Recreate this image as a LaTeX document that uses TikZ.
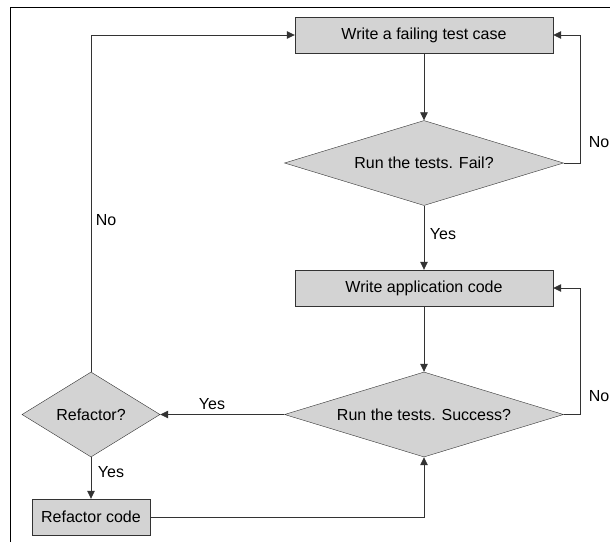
\documentclass[tikz,border=0pt]{standalone}
\usepackage{fontspec}
\setmainfont{Liberation Sans}
\usetikzlibrary{arrows.meta,shapes.geometric}
\definecolor{boxgray}{RGB}{211,211,211}
\definecolor{linegray}{RGB}{51,51,51}

\begin{document}
\begin{tikzpicture}[x=1pt,y=-1pt,
    every node/.style={font=\fontsize{16}{18}\selectfont},
    stepbox/.style={draw=linegray,fill=boxgray,rectangle,minimum height=36pt,inner sep=0pt},
    askbox/.style={draw=linegray,fill=boxgray,diamond,aspect=3,minimum height=85pt,inner sep=0pt},
    lbl/.style={inner sep=0pt},
    arr/.style={draw=linegray,line width=0.8pt,-{Triangle[length=8pt,width=7.5pt]}},
    ln/.style={draw=linegray,line width=0.8pt}]

\useasboundingbox (0,0) rectangle (610,542);

%% 外框:只画上边和左边
\draw[line width=1pt] (10,542) -- (10,7) -- (610,7);

%% 方框与判断框
\node[stepbox,minimum width=258pt] (fail)   at (424,35)    {Write a failing test case};
\node[askbox,minimum width=279pt]  (runf)   at (424,163)   {Run the tests. Fail?};
\node[stepbox,minimum width=258pt] (app)    at (424,288)   {Write application code};
\node[askbox,minimum width=279pt]  (runs)   at (424,414.5) {Run the tests. Success?};
\node[askbox,aspect=1.6,minimum width=138pt] (refq) at (91,414.5) {Refactor?};
\node[stepbox,minimum width=118pt] (refc)   at (91,517)    {Refactor code};

%% 连线
\draw[arr] (fail) -- (runf);
\draw[arr] (runf) -- (app);
\draw[arr] (runf.east) -- ++(17,0) |- (fail.east);
\draw[arr] (app) -- (runs);
\draw[arr] (runs.east) -- ++(17,0) |- (app.east);
\draw[arr] (runs.west) -- (refq.east);
\draw[arr] (refq) -- (refc);
\draw[arr] (refc.east) -| (runs.south);
\draw[arr] (refq.north) |- (fail.west);

%% 标签
\node[lbl] (yes1) at (443,234) {Yes};
\node[lbl] (no1)  at (599,142) {No};
\node[lbl] (no2)  at (599,396) {No};
\node[lbl] (yes2) at (212,404) {Yes};
\node[lbl] (yes3) at (111,472) {Yes};
\node[lbl] (no3)  at (106,220) {No};

\end{tikzpicture}
\end{document}
